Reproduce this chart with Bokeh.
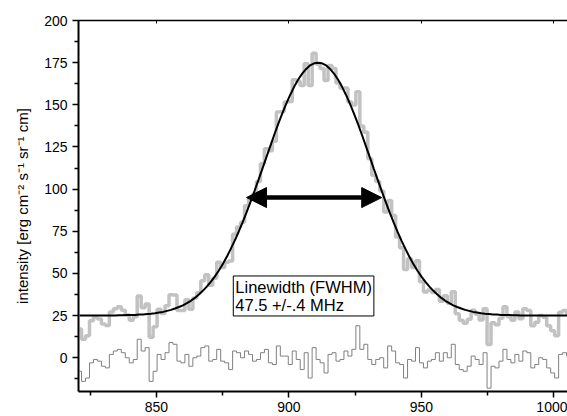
import numpy as np
from bokeh.plotting import figure
from bokeh.models import (FixedTicker, LinearAxis, Arrow, NormalHead, Label,
                          Range1d, ColumnDataSource)
from bokeh.embed import file_html
from bokeh.resources import INLINE

# ---------------- data ----------------
x_mhz = np.arange(821.0, 1006.0, 1.5)  # frequency channels (124)

fit_intensity = [
    25.0, 25.0, 25.0, 25.0, 25.0, 25.0, 25.0, 25.1, 25.1, 25.1,
    25.2, 25.2, 25.3, 25.3, 25.4, 25.6, 25.7, 25.9, 26.1, 26.4,
    26.8, 27.2, 27.8, 28.4, 29.2, 30.1, 31.1, 32.4, 33.8, 35.5,
    37.5, 39.7, 42.2, 45.0, 48.1, 51.6, 55.5, 59.7, 64.4, 69.3,
    74.6, 80.3, 86.2, 92.5, 98.9, 105.5, 112.2, 119.0, 125.7, 132.4,
    138.8, 144.9, 150.7, 156.0, 160.8, 165.0, 168.5, 171.3, 173.4, 174.6,
    175.0, 174.6, 173.4, 171.3, 168.5, 165.0, 160.8, 156.0, 150.7, 144.9,
    138.8, 132.4, 125.7, 119.0, 112.2, 105.5, 98.9, 92.5, 86.2, 80.3,
    74.6, 69.3, 64.4, 59.7, 55.5, 51.6, 48.1, 45.0, 42.2, 39.7,
    37.5, 35.5, 33.8, 32.4, 31.1, 30.1, 29.2, 28.4, 27.8, 27.2,
    26.8, 26.4, 26.1, 25.9, 25.7, 25.6, 25.4, 25.3, 25.3, 25.2,
    25.2, 25.1, 25.1, 25.1, 25.0, 25.0, 25.0, 25.0, 25.0, 25.0,
    25.0, 25.0, 25.0, 25.0,
]

observed_intensity = [
    17.0, 11.0, 13.0, 22.0, 24.0, 23.0, 20.0, 19.1, 27.1, 29.1,
    30.2, 28.2, 25.3, 22.3, 24.4, 36.6, 29.7, 31.9, 12.1, 18.4,
    28.8, 26.2, 30.8, 37.4, 37.2, 28.1, 28.1, 34.4, 28.8, 35.5,
    38.5, 45.7, 49.2, 43.0, 47.1, 56.6, 53.5, 56.7, 57.4, 73.3,
    77.6, 80.3, 90.2, 94.5, 96.9, 104.5, 115.2, 124.0, 122.7, 128.4,
    145.8, 145.9, 151.7, 152.0, 164.8, 164.0, 161.5, 174.3, 161.4, 180.6,
    174.0, 171.6, 164.4, 173.3, 171.5, 163.0, 159.8, 160.0, 151.7, 149.9,
    157.8, 137.4, 133.7, 118.0, 108.2, 104.5, 98.9, 86.5, 93.2, 84.3,
    71.6, 65.3, 52.4, 58.7, 53.5, 57.6, 45.1, 39.0, 40.2, 38.7,
    40.5, 33.5, 36.8, 32.4, 39.1, 26.1, 22.2, 20.4, 22.8, 28.2,
    25.8, 22.4, 29.1, 7.9, 20.7, 19.6, 23.4, 30.3, 24.3, 22.2,
    27.2, 23.1, 29.1, 28.1, 19.0, 21.0, 25.0, 24.0, 19.0, 16.0,
    13.0, 27.0, 28.0, 26.0,
]

residual = [
    -8, -14, -12, -3, -1, -2, -5, -6, 2, 4,
    5, 3, 0, -3, -1, 11, 4, 6, -14, -8,
    2, -1, 3, 9, 8, -2, -3, 2, -5, 0,
    1, 6, 7, -2, -1, 5, -2, -3, -7, 4,
    3, 0, 4, 2, -2, -1, 3, 5, -3, -4,
    7, 1, 1, -4, 4, -1, -7, 3, -12, 6,
    -1, -3, -9, 2, 3, -2, -1, 4, 1, 5,
    19, 5, 8, -1, -4, -1, 0, -6, 7, 4,
    -3, -4, -12, -1, -2, 6, -3, -6, -2, -1,
    3, -2, 3, 0, 8, -4, -7, -8, -5, 1,
    -1, -4, 3, -18, -5, -6, -2, 5, -1, -3,
    2, -2, 4, 3, -6, -4, 0, -1, -6, -9,
    -12, 2, 3, 1,
]

x_ticks = [850, 900, 950, 1000]
x_minor = [825, 875, 925, 975]
y_ticks = [0, 25, 50, 75, 100, 125, 150, 175, 200]
y_minor = [-12.5, 12.5, 37.5, 62.5, 87.5, 112.5, 137.5, 162.5, 187.5]

fwhm_x = [884.0, 935.0]   # arrow ends
fwhm_y = 95.0
note_lines = ["Linewidth (FWHM)", "47.5 +/-.4 MHz"]
y_label = "intensity [erg cm\u207b\u00b2 s\u207b\u00b9 sr\u207b\u00b9 cm]"

FONT = "Liberation Sans"

src = ColumnDataSource(dict(x=x_mhz, fit=fit_intensity,
                            obs=observed_intensity, res=residual))

p = figure(width=567, height=416,
           x_range=Range1d(820.6, 1005.1), y_range=Range1d(-20, 200),
           output_backend="svg", toolbar_location=None,
           min_border_left=78, min_border_right=0,
           min_border_top=20, min_border_bottom=25)
p.xgrid.visible = False
p.ygrid.visible = False
p.outline_line_color = None
p.background_fill_color = "white"
p.border_fill_color = "white"

# data
p.step("x", "obs", source=src, mode="center", line_color="#c2c2c2", line_width=3.5)
p.line("x", "fit", source=src, line_color="black", line_width=2)
p.step("x", "res", source=src, mode="center", line_color="#808080", line_width=1)

# axes
for ax in (p.xaxis[0], p.yaxis[0]):
    ax.axis_line_width = 2
    ax.major_tick_line_width = 1.5
    ax.minor_tick_line_width = 1.5
    ax.major_tick_in = 0
    ax.major_tick_out = 6
    ax.minor_tick_in = 0
    ax.minor_tick_out = 4
    ax.major_label_text_font = FONT
    ax.major_label_text_font_size = "14px"
    ax.major_label_text_color = "black"

p.xaxis.ticker = FixedTicker(ticks=x_ticks, minor_ticks=x_minor)
p.yaxis.ticker = FixedTicker(ticks=y_ticks, minor_ticks=y_minor)
p.xaxis.major_label_standoff = 4
p.yaxis.major_label_standoff = 5
p.yaxis.axis_label = y_label
p.yaxis.axis_label_text_font = FONT
p.yaxis.axis_label_text_font_size = "15px"
p.yaxis.axis_label_text_color = "black"
p.yaxis.axis_label_text_font_style = "normal"
p.yaxis.axis_label_standoff = 10

top = LinearAxis(ticker=FixedTicker(ticks=x_ticks, minor_ticks=x_minor),
                 major_label_text_font_size="1px", major_label_text_color=None,
                 major_label_standoff=0, major_tick_in=3, major_tick_out=0,
                 minor_tick_in=0, minor_tick_out=0, axis_line_width=1.5,
                 major_tick_line_width=1)
p.add_layout(top, "above")

# FWHM arrow
p.add_layout(Arrow(start=NormalHead(size=20, fill_color="black", line_color="black"),
                   end=NormalHead(size=20, fill_color="black", line_color="black"),
                   x_start=fwhm_x[0], y_start=fwhm_y, x_end=fwhm_x[1], y_end=fwhm_y,
                   line_width=4.5, line_color="black"))

p.add_layout(Label(x=879.0, y=48.5, text="\n".join(note_lines),
                   anchor="top_left", text_font=FONT, text_font_size="16.5px",
                   text_color="black", border_line_color="black",
                   border_line_width=1, background_fill_color="white",
                   padding=2, text_line_height=1.0))

open("out.html", "w").write(file_html(p, INLINE))
